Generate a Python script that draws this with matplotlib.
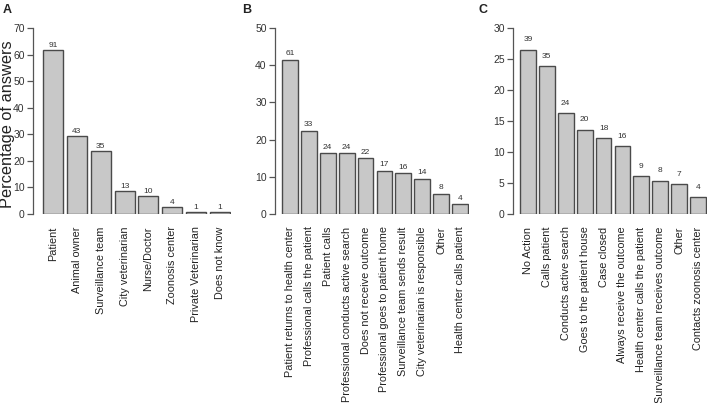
import matplotlib
matplotlib.use("Agg")
import matplotlib.pyplot as plt
import numpy as np

plt.rcParams['font.family'] = ['Liberation Sans', 'DejaVu Sans']

# panel A - who informs about the case
cats_a = ["Patient", "Animal owner", "Surveillance team", "City veterinarian",
          "Nurse/Doctor", "Zoonosis center", "Private Veterinarian", "Does not know"]
pct_a = [61.9, 29.3, 23.8, 8.8, 6.8, 2.7, 0.7, 0.7]
n_a = [91, 43, 35, 13, 10, 4, 1, 1]
yt_a = [0, 10, 20, 30, 40, 50, 60, 70]

# panel B
cats_b = ["Patient returns to health center", "Professional calls the patient",
          "Patient calls", "Professional conducts active search",
          "Does not receive outcome", "Professional goes to patient home",
          "Surveillance team sends result", "City veterinarian is responsible",
          "Other", "Health center calls patient"]
pct_b = [41.5, 22.4, 16.3, 16.3, 15.0, 11.6, 10.9, 9.5, 5.4, 2.7]
n_b = [61, 33, 24, 24, 22, 17, 16, 14, 8, 4]
yt_b = [0, 10, 20, 30, 40, 50]

# panel C
cats_c = ["No Action", "Calls patient", "Conducts active search",
          "Goes to the patient house", "Case closed", "Always receive the outcome",
          "Health center calls the patient", "Surveillance team receives outcome",
          "Other", "Contacts zoonosis center"]
pct_c = [26.5, 23.8, 16.3, 13.6, 12.2, 10.9, 6.1, 5.4, 4.8, 2.7]
n_c = [39, 35, 24, 20, 18, 16, 9, 8, 7, 4]
yt_c = [0, 5, 10, 15, 20, 25, 30]

W, H = 708, 403
fig = plt.figure(figsize=(W / 100, H / 100), dpi=100)

FILL = "#c8c8c8"
EDGE = "#4a4a4a"
AXC = "#555555"


def panel(ax_left, bar_left, bar_right, cats, pct, counts, yticks, letter, letter_x):
    n = len(cats)
    bw = 1 / 1.2
    unit = (bar_right - bar_left) / (n - 1 + bw)  # pixels per category
    left_units = (bar_left - ax_left) / unit
    xmin = -bw / 2 - left_units
    xmax = n - 1 + bw / 2 + 0.05
    ax_w = (xmax - xmin) * unit
    y0, y1 = 214, 28
    ax = fig.add_axes([ax_left / W, (H - y0) / H, ax_w / W, (y0 - y1) / H])
    x = np.arange(n)
    ax.bar(x, pct, width=bw, color=FILL, edgecolor=EDGE, linewidth=1.0)
    for xi, p, c in zip(x, pct, counts):
        ax.text(xi, p + 1.6, str(c), ha="center", va="center",
                fontsize=6, color="#333333")
    ax.set_xlim(xmin, xmax)
    ax.set_ylim(0, yticks[-1])
    ax.set_yticks(yticks)
    ax.set_yticklabels([str(t) for t in yticks], fontsize=7.5, color="#333333")
    ax.set_xticks(x)
    ax.set_xticklabels(cats, rotation=90, fontsize=7.8, color="#222222",
                       va="top", ha="center")
    ax.tick_params(axis="x", length=0, pad=9)
    ax.tick_params(axis="y", length=4, width=0.9, color=AXC, pad=2)
    for s in ["top", "right", "bottom"]:
        ax.spines[s].set_visible(False)
    ax.spines["left"].set_color(AXC)
    ax.spines["left"].set_linewidth(0.9)
    ax.patch.set_visible(False)
    fig.text(letter_x / W, 1 - 10 / H, letter, fontsize=9, fontweight="bold",
             ha="left", va="center", color="#222222")
    return ax


panel(33, 43, 230, cats_a, pct_a, n_a, yt_a, "A", 3)
panel(275, 282, 468, cats_b, pct_b, n_b, yt_b, "B", 242)
panel(513, 520, 706, cats_c, pct_c, n_c, yt_c, "C", 478)

fig.text(7.5 / W, 1 - 124 / H, "Percentage of answers", rotation=90,
         fontsize=11.8, ha="center", va="center", color="#222222")

fig.savefig("out.png", dpi=100)
